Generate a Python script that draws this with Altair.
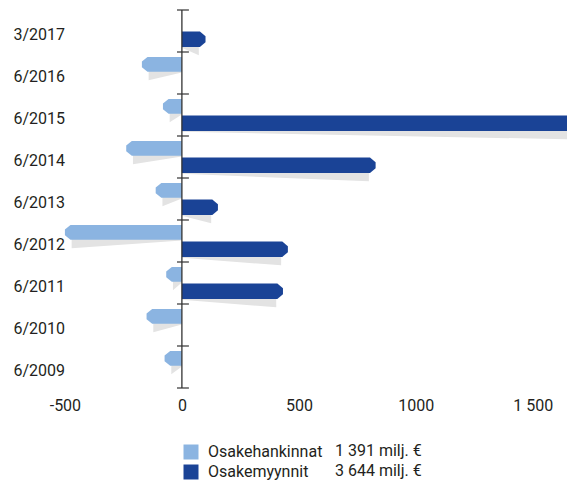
import json
import altair as alt
import pandas as pd

# ---- data ----
periods = ["3/2017", "6/2016", "6/2015", "6/2014", "6/2013",
           "6/2012", "6/2011", "6/2010", "6/2009"]
series = ["Osakehankinnat", "Osakemyynnit"]
purchases = [None, -171, -81, -238, -112, -500, -67, -151, -74]
sales = [101, None, 1700, 828, 154, 453, 432, None, None]
totals = ["1 391 milj. €", "3 644 milj. €"]
x_ticks = [-500, 0, 500, 1000, 1500]
x_tick_labels = ["-500", "0", "500", "1000", "1 500"]
colors = ["#8bb4e1", "#1a4396"]

FONT = "Roboto, sans-serif"
TXT = "#231f20"
FS = 16

# slot of each series within a period band (fractions of band) - layout
slots = [(0.12, 0.47), (0.51, 0.88)]
TIP = 24        # chamfer length in x units
END_HALF = 0.07

bar_rows, shadow_rows = [], []
for i, p in enumerate(periods):
    for s, vals, (t, b) in zip(series, [purchases, sales], slots):
        v = vals[i]
        if v is None:
            continue
        sg = 1 if v > 0 else -1
        mid = (t + b) / 2
        key = f"{s}-{p}"
        bar_rows += [
            dict(key=key, series=s, x=0, y=i + t, y2=i + b),
            dict(key=key, series=s, x=v - sg * TIP, y=i + t, y2=i + b),
            dict(key=key, series=s, x=v, y=i + mid - END_HALF, y2=i + mid + END_HALF),
        ]
        shadow_rows += [
            dict(key=key, x=0, y=i + mid, y2=i + b + 0.02),
            dict(key=key, x=v - sg * TIP * 1.2, y=i + mid, y2=i + b + 0.2),
        ]

bars_df = pd.DataFrame(bar_rows)
shadow_df = pd.DataFrame(shadow_rows)
ticks_df = pd.DataFrame({"b": list(range(len(periods) + 1))})

xscale = alt.Scale(domain=[-521, 1646], nice=False, zero=False)
yscale = alt.Scale(domain=[0, len(periods)], reverse=True, nice=False, zero=False)

label_expr_y = json.dumps(periods) + "[floor(datum.value)]"
label_expr_x = json.dumps(x_tick_labels) + "[indexof(" + json.dumps(x_ticks) + ", datum.value)]"

x_axis = alt.Axis(values=x_ticks, labelExpr=label_expr_x, domain=False, ticks=False,
                  tickSize=0, grid=False, labelPadding=9, labelFontSize=FS,
                  labelFont=FONT, labelColor=TXT, title=None)
y_axis = alt.Axis(values=[i + 0.58 for i in range(len(periods))], labelExpr=label_expr_y,
                  domain=False, ticks=False, tickSize=0, grid=False, labelAlign="left",
                  labelPadding=47, labelFontSize=FS, labelFont=FONT, labelColor=TXT,
                  title=None)

shadow = alt.Chart(shadow_df).mark_area(color="#e3e3e3", orient="vertical", clip=True).encode(
    x=alt.X("x:Q", scale=xscale, axis=x_axis),
    y=alt.Y("y:Q", scale=yscale, axis=y_axis),
    y2="y2:Q",
    detail="key:N",
)

bars = alt.Chart(bars_df).mark_area(orient="vertical", clip=True).encode(
    x=alt.X("x:Q", scale=xscale),
    y=alt.Y("y:Q", scale=yscale),
    y2="y2:Q",
    detail="key:N",
    color=alt.Color("series:N", scale=alt.Scale(domain=series, range=colors),
                    legend=alt.Legend(orient="none", legendX=123, legendY=434, title=None,
                                      symbolType="square", symbolSize=225,
                                      symbolStrokeWidth=0, labelFontSize=FS,
                                      labelFont=FONT, labelColor=TXT, labelOffset=9,
                                      rowPadding=4, padding=0)),
)

center = alt.Chart(pd.DataFrame({"a": [0]})).mark_rule(color="#333333", strokeWidth=1.3).encode(
    x=alt.X("a:Q", scale=xscale),
    y=alt.value(0),
    y2=alt.value(378),
)

tick_marks = alt.Chart(ticks_df).mark_rule(color="#333333", strokeWidth=1.2).encode(
    x=alt.datum(-21),
    x2=alt.datum(30),
    y=alt.Y("b:Q", scale=yscale),
)

total_layers = []
for k, t in enumerate(totals):
    total_layers.append(
        alt.Chart(pd.DataFrame({"t": [t]})).mark_text(
            align="left", baseline="middle", fontSize=FS, font=FONT, color=TXT
        ).encode(x=alt.value(275), y=alt.value(441 + k * 19.5), text="t:N")
    )

chart = alt.layer(shadow, bars, center, tick_marks, *total_layers).properties(
    width=507, height=378,
    autosize=alt.AutoSizeParams(type="none"),
    padding={"left": 52, "top": 2, "right": 0, "bottom": 94},
).configure_view(stroke=None)

chart.save("out.html", embed_options={"renderer": "svg", "actions": False})
